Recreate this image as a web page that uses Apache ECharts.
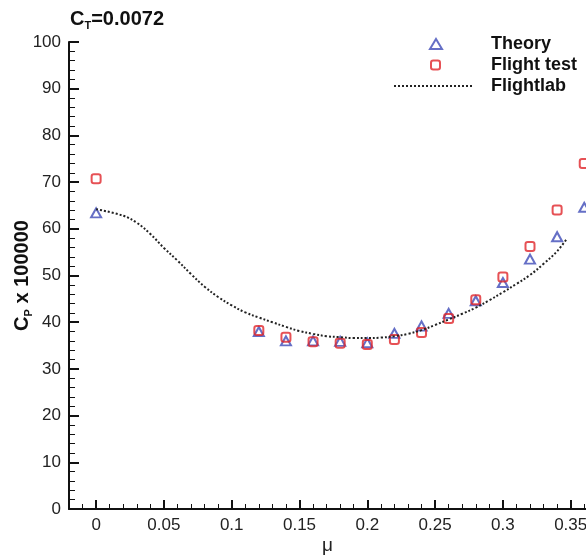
<!DOCTYPE html>
<html><head><meta charset="utf-8">
<script src="https://cdn.jsdelivr.net/npm/echarts@6/dist/echarts.min.js"></script>
<style>html,body{margin:0;padding:0;background:#fff}#c{width:586px;height:555px}</style>
</head><body><div id="c"></div>
<script>
// mu values where theory / flight test are given
const muPoints = [0, 0.12, 0.14, 0.16, 0.18, 0.20, 0.22, 0.24, 0.26, 0.28, 0.30, 0.32, 0.34, 0.36];
const theory = [63.4, 38.0, 36.0, 36.0, 35.9, 35.6, 37.6, 39.2, 41.9, 44.6, 48.5, 53.5, 58.3, 64.6];
const flightTest = [70.7, 38.2, 36.8, 35.8, 35.5, 35.2, 36.3, 37.8, 40.8, 44.8, 49.7, 56.2, 64.0, 74.0];
// Flightlab curve
const muLab = [0, 0.02, 0.03, 0.04, 0.05, 0.06, 0.07, 0.08, 0.09, 0.10, 0.11, 0.12, 0.13, 0.14, 0.15, 0.16, 0.17, 0.18, 0.19, 0.20, 0.21, 0.22, 0.23, 0.24, 0.25, 0.26, 0.27, 0.28, 0.29, 0.30, 0.31, 0.32, 0.33, 0.34, 0.347];
const flightlab = [64.2, 62.8, 61.3, 58.9, 55.9, 53.2, 50.3, 47.6, 45.4, 43.6, 42.1, 41.0, 40.0, 39.0, 38.1, 37.5, 37.0, 36.8, 36.6, 36.6, 36.7, 37.0, 37.5, 38.3, 39.4, 40.6, 41.8, 43.1, 44.7, 46.4, 48.2, 50.1, 52.5, 55.2, 57.8];
const xTicks = [0, 0.05, 0.1, 0.15, 0.2, 0.25, 0.3, 0.35];

const FONT = 'Liberation Sans';
const chart = echarts.init(document.getElementById('c'), null, {renderer: 'canvas'});
const blue = '#3f4bb8', red = '#e0262b';
const pairs = (xs, ys) => xs.map((x, i) => [x, ys[i]]);
const legendText = pad => ({rich: {t: {fontFamily: FONT, fontWeight: 'bold', fontSize: 18, color: '#111', padding: [0, 0, 0, pad]}}});

chart.setOption({
  animation: false,
  title: {
    text: '{a|C}{s|T}{a|=0.0072}', left: 70, top: 8, padding: 0,
    textStyle: {rich: {
      a: {fontFamily: FONT, fontWeight: 'bold', fontSize: 20, color: '#111'},
      s: {fontFamily: FONT, fontWeight: 'bold', fontSize: 11, color: '#111', padding: [12, 0, 0, 0]}
    }}
  },
  legend: [
    {data: ['Theory'], left: 429, top: 35, padding: 0, itemWidth: 12, itemHeight: 10,
      itemStyle: {color: 'rgba(0,0,0,0)', borderColor: blue, borderWidth: 2},
      formatter: '{t|Theory}', textStyle: legendText(44)},
    {data: ['Flight test'], left: 430, top: 56, padding: 0, itemWidth: 9, itemHeight: 9,
      itemStyle: {color: 'rgba(0,0,0,0)', borderColor: red, borderWidth: 2},
      formatter: '{t|Flight test}', textStyle: legendText(46)},
    {data: ['Flightlab'], left: 393, top: 77, padding: 0, itemWidth: 80, itemHeight: 10,
      itemStyle: {opacity: 0},
      formatter: '{t|Flightlab}', textStyle: legendText(12)}
  ],
  grid: {left: 69, right: 0, top: 42, bottom: 46, containLabel: false, outerBoundsMode: 'none'},
  xAxis: [
    {
      type: 'value', position: 'bottom', min: -0.02, max: 0.3613,
      name: 'μ', nameLocation: 'middle', nameGap: 27, nameMoveOverlap: false,
      nameTextStyle: {fontFamily: FONT, fontSize: 19, color: '#222'},
      axisLine: {show: true, onZero: false, lineStyle: {color: '#111', width: 2}},
      axisTick: {show: true, inside: true, length: 9, customValues: xTicks, lineStyle: {color: '#111', width: 2}},
      axisLabel: {show: true, customValues: xTicks, margin: 8, fontFamily: FONT, fontSize: 17, color: '#222',
        formatter: v => String(+(+v).toFixed(2))},
      splitLine: {show: false}
    },
    {
      type: 'value', position: 'bottom', min: -0.02, max: 0.3613, interval: 0.01,
      axisLine: {show: false, onZero: false},
      axisTick: {show: true, inside: true, length: 5, lineStyle: {color: '#111', width: 1}},
      axisLabel: {show: false},
      splitLine: {show: false}
    }
  ],
  yAxis: {
    type: 'value', position: 'left', min: 0, max: 100, interval: 10,
    name: '{a|C}{s|P}{a| x 100000}', nameLocation: 'middle', nameGap: 35, nameRotate: 90, nameMoveOverlap: false,
    nameTextStyle: {rich: {
      a: {fontFamily: FONT, fontWeight: 'bold', fontSize: 20, color: '#111'},
      s: {fontFamily: FONT, fontWeight: 'bold', fontSize: 11, color: '#111', padding: [12, 0, 0, 0]}
    }},
    axisLine: {show: true, onZero: false, lineStyle: {color: '#111', width: 2}},
    axisTick: {show: true, inside: true, length: 10, lineStyle: {color: '#111', width: 2}},
    minorTick: {show: true, splitNumber: 5, length: 6, lineStyle: {color: '#111', width: 1}},
    axisLabel: {margin: 8, fontFamily: FONT, fontSize: 17, color: '#222'},
    splitLine: {show: false}
  },
  series: [
    {name: 'Theory', type: 'scatter', data: pairs(muPoints, theory), symbol: 'triangle', symbolSize: [10, 9],
      itemStyle: {color: 'rgba(0,0,0,0)', borderColor: blue, borderWidth: 2}, z: 2},
    {name: 'Flight test', type: 'scatter', data: pairs(muPoints, flightTest), symbol: 'roundRect', symbolSize: 9,
      itemStyle: {color: 'rgba(0,0,0,0)', borderColor: red, borderWidth: 2}, z: 3},
    {name: 'Flightlab', type: 'line', data: pairs(muLab, flightlab), smooth: 0.4, symbol: 'none', showSymbol: false,
      lineStyle: {color: '#222', width: 2, type: [2, 2]}, itemStyle: {color: '#222'}, z: 4}
  ]
});
</script>
</body></html>
